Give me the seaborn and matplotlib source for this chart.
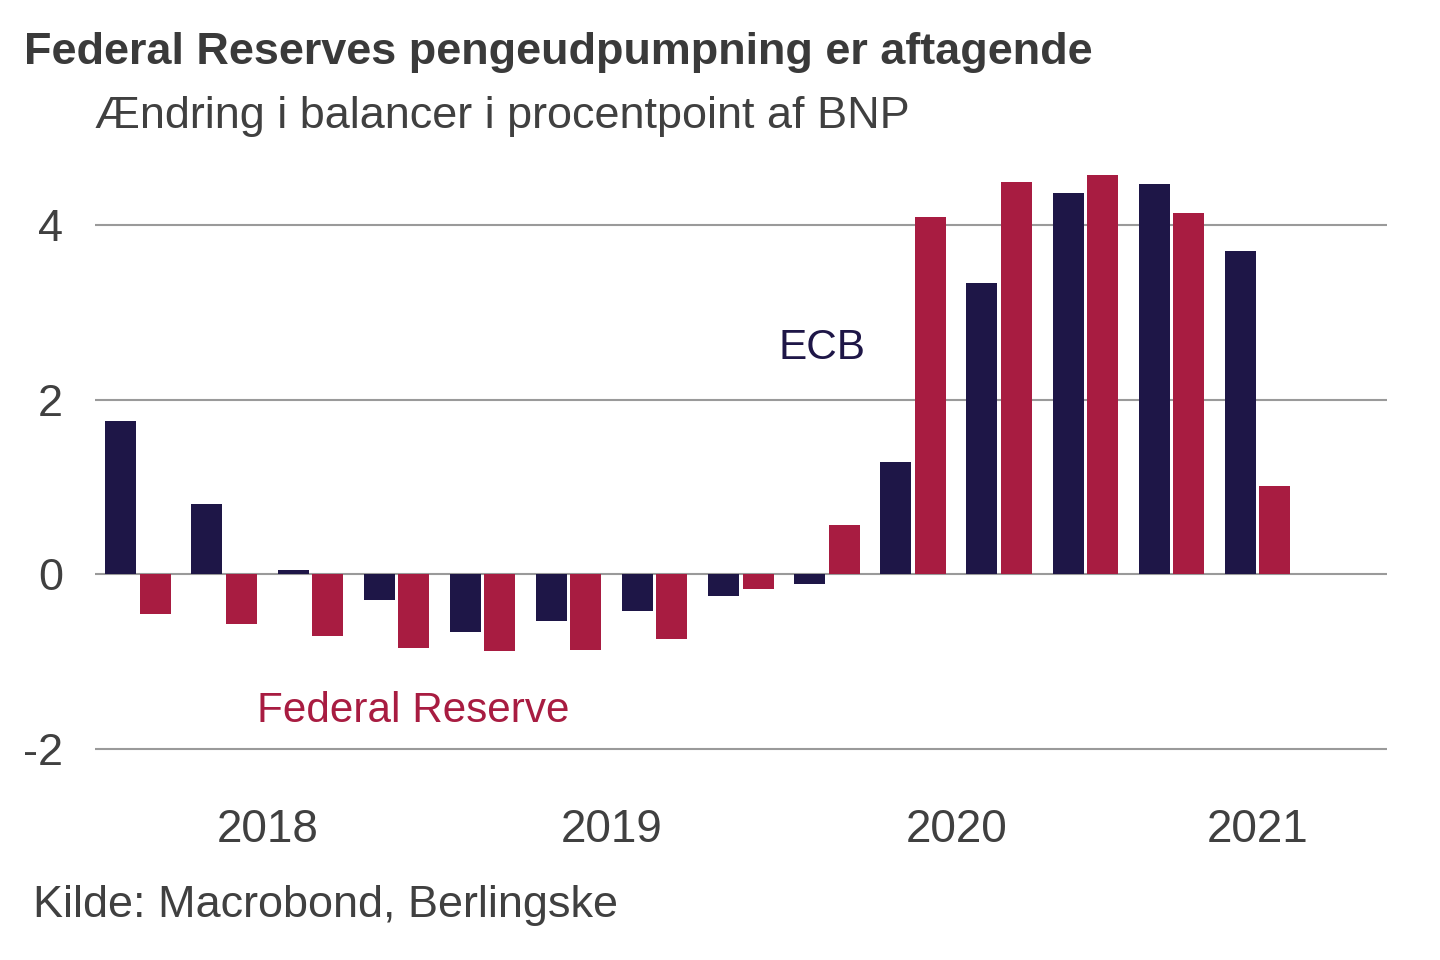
import pandas as pd
import seaborn as sns
import matplotlib.pyplot as plt

quarters = ['2018K1', '2018K2', '2018K3', '2018K4',
            '2019K1', '2019K2', '2019K3', '2019K4',
            '2020K1', '2020K2', '2020K3', '2020K4',
            '2021K1', '2021K2']
ecb = [1.75, 0.80, 0.05, -0.30, -0.66, -0.54, -0.42, -0.25, -0.11,
       1.28, 3.34, 4.36, 4.47, 3.70]
fed = [-0.46, -0.57, -0.71, -0.84, -0.88, -0.87, -0.74, -0.17, 0.56,
       4.09, 4.49, 4.57, 4.14, 1.01]
year_labels = ['2018', '2019', '2020', '2021']
year_pos = [1.5, 5.5, 9.5, 13]

navy = '#1e1647'
crimson = '#a81c41'
text_col = '#404040'

df = pd.DataFrame({
    'kvartal': quarters * 2,
    'bank': ['ECB'] * len(quarters) + ['Federal Reserve'] * len(quarters),
    'værdi': ecb + fed,
})

sns.set_style('white')
plt.rcParams['font.family'] = ['Liberation Sans', 'DejaVu Sans']

fig = plt.figure(figsize=(14.4, 9.6), dpi=100)
ax = fig.add_axes([0.066, 0.218, 0.897, 0.616])

sns.barplot(data=df, x='kvartal', y='værdi', hue='bank', order=quarters,
            hue_order=['ECB', 'Federal Reserve'], palette=[navy, crimson],
            width=0.8, gap=0.1, legend=False, ax=ax, saturation=1,
            linewidth=0)

ax.set_xlim(-0.5, 14.5)
ax.set_ylim(-2.02, 4.75)
ax.set_yticks([-2, 0, 2, 4])
ax.set_yticklabels(['-2', '0', '2', '4'])
ax.set_xticks(year_pos)
ax.set_xticklabels(year_labels)
ax.set_axisbelow(True)
ax.yaxis.grid(True, color='#9a9a9a', linewidth=1.5)
ax.xaxis.grid(False)
for s in ax.spines.values():
    s.set_visible(False)
ax.tick_params(axis='y', length=0, pad=23, labelsize=32.5, labelcolor=text_col)
ax.tick_params(axis='x', length=0, pad=41, labelsize=33, labelcolor=text_col)
ax.set_xlabel('')
ax.set_ylabel('')

ax.text(7.94, 2.59, 'ECB', color=navy, fontsize=30.5, ha='center', va='center')
ax.text(3.19, -1.56, 'Federal Reserve', color=crimson, fontsize=30.4,
        ha='center', va='center')

fig.text(0.017, 0.945, 'Federal Reserves pengeudpumpning er aftagende',
         fontsize=32.4, fontweight='bold', color='#3a3a3a', va='center')
fig.text(0.066, 0.879, 'Ændring i balancer i procentpoint af BNP',
         fontsize=32.4, color=text_col, va='center')
fig.text(0.023, 0.057, 'Kilde: Macrobond, Berlingske',
         fontsize=32.4, color=text_col, va='center')

fig.savefig('out.png', dpi=100, facecolor='white')
